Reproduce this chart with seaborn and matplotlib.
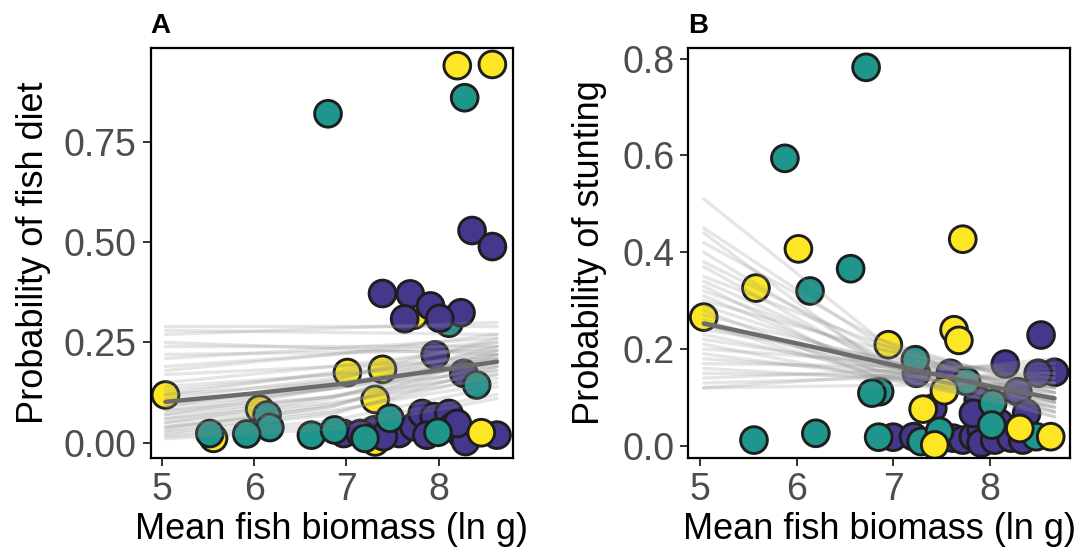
import pandas as pd
import numpy as np
import matplotlib
matplotlib.use("Agg")
import matplotlib.pyplot as plt
import seaborn as sns

# ---- scatter points, panel A (listed in drawing order) ----
a_x = [5.56, 7.73, 7.31, 5.04, 7.01, 7.39, 7.31, 6.06, 8.20, 8.58,
       8.11,
       8.36, 8.58, 7.39, 7.69, 7.91, 8.24, 7.63, 8.01, 7.96, 8.27,
       6.97, 7.30, 7.57, 7.73, 7.82, 7.95, 8.11, 8.15, 8.25, 8.29,
       8.63, 7.87, 7.15, 7.40, 8.20,
       6.80, 8.28, 8.41, 6.14, 6.17, 5.52, 5.92, 6.62, 6.87, 7.20,
       7.47, 7.99,
       8.46]
a_y = [0.011, 0.318, 0.002, 0.119, 0.175, 0.183, 0.108, 0.084, 0.940, 0.943,
       0.298,
       0.529, 0.489, 0.372, 0.371, 0.341, 0.324, 0.309, 0.310, 0.219, 0.173,
       0.023, 0.032, 0.023, 0.040, 0.073, 0.065, 0.073, 0.040, 0.019, 0.003,
       0.019, 0.019, 0.023, 0.015, 0.048,
       0.820, 0.860, 0.144, 0.069, 0.038, 0.023, 0.022, 0.019, 0.032, 0.011,
       0.061, 0.026,
       0.025]
a_grp = (["high"] * 10 + ["mid"] + ["low"] * 25 + ["mid"] * 12 + ["high"])

# ---- scatter points, panel B ----
b_x = [8.53, 8.16, 8.67, 8.50, 7.59, 7.24, 8.29, 8.38, 7.88, 7.41,
       7.00, 7.21, 7.62, 7.72, 7.83, 7.91, 7.97, 8.10, 7.91, 8.05,
       8.22, 8.34, 7.83,
       6.72, 5.88, 6.56, 6.14, 5.56, 6.20, 7.23, 6.86, 6.78, 7.76,
       8.03, 8.02, 6.85, 7.29, 7.48, 8.48,
       5.04, 5.58, 6.02, 7.72, 6.95, 7.63, 7.68, 7.31, 7.53, 8.63,
       8.31, 7.43]
b_y = [0.229, 0.169, 0.152, 0.150, 0.150, 0.150, 0.112, 0.067, 0.095, 0.078,
       0.018, 0.019, 0.016, 0.012, 0.019, 0.033, 0.061, 0.047, 0.006, 0.012,
       0.016, 0.012, 0.067,
       0.782, 0.594, 0.366, 0.320, 0.012, 0.026, 0.178, 0.112, 0.109, 0.133,
       0.088, 0.043, 0.018, 0.009, 0.030, 0.019,
       0.266, 0.326, 0.407, 0.427, 0.209, 0.240, 0.218, 0.076, 0.114, 0.019,
       0.036, 0.002]
b_grp = ["low"] * 23 + ["mid"] * 16 + ["high"] * 12

# ---- posterior draws (value at left, middle, right end) ----
a_draw_x = [5.04, 6.84, 8.63]
a_left = [0.29, 0.28, 0.27, 0.25, 0.24, 0.22, 0.21, 0.19, 0.18, 0.17,
          0.15, 0.14, 0.13, 0.12, 0.12, 0.11, 0.10, 0.10, 0.09, 0.09,
          0.08, 0.08, 0.07, 0.07, 0.06, 0.06, 0.05, 0.05, 0.04, 0.04,
          0.035, 0.03, 0.025, 0.02, 0.015, 0.01]
a_mid = [0.29, 0.275, 0.285, 0.235, 0.24, 0.225, 0.235, 0.22, 0.22, 0.19,
         0.19, 0.17, 0.17, 0.175, 0.15, 0.16, 0.145, 0.135, 0.155, 0.135,
         0.135, 0.115, 0.135, 0.115, 0.115, 0.10, 0.11, 0.095, 0.09, 0.08,
         0.09, 0.075, 0.07, 0.055, 0.045, 0.035]
a_right = [0.29, 0.27, 0.30, 0.22, 0.24, 0.23, 0.26, 0.25, 0.27, 0.21,
           0.24, 0.20, 0.22, 0.25, 0.19, 0.23, 0.21, 0.18, 0.26, 0.20,
           0.22, 0.17, 0.24, 0.19, 0.21, 0.16, 0.23, 0.18, 0.20, 0.15,
           0.22, 0.17, 0.19, 0.14, 0.12, 0.11]

b_draw_x = [5.04, 6.86, 8.67]
b_left = [0.51, 0.45, 0.44, 0.42, 0.40, 0.38, 0.37, 0.35, 0.34, 0.33,
          0.32, 0.31, 0.30, 0.29, 0.28, 0.27, 0.26, 0.25, 0.25, 0.24,
          0.23, 0.22, 0.21, 0.20, 0.19, 0.18, 0.17, 0.16, 0.15, 0.14,
          0.13, 0.12, 0.12]
b_mid = [0.22, 0.21, 0.17, 0.22, 0.18, 0.20, 0.17, 0.21, 0.18, 0.15,
         0.19, 0.16, 0.20, 0.17, 0.14, 0.18, 0.155, 0.165, 0.145, 0.185,
         0.155, 0.165, 0.14, 0.175, 0.145, 0.155, 0.165, 0.14, 0.145, 0.155,
         0.14, 0.125, 0.145]
b_right = [0.07, 0.09, 0.06, 0.11, 0.08, 0.10, 0.07, 0.12, 0.09, 0.06,
           0.11, 0.08, 0.13, 0.10, 0.07, 0.12, 0.09, 0.11, 0.08, 0.14,
           0.10, 0.12, 0.09, 0.15, 0.11, 0.13, 0.16, 0.12, 0.14, 0.17,
           0.15, 0.13, 0.18]

# ---- mean fitted curves ----
a_mean_x = [5.04, 6.0, 7.0, 8.0, 8.63]
a_mean_y = [0.102, 0.123, 0.148, 0.181, 0.202]
b_mean_x = [5.04, 6.0, 7.0, 8.0, 8.67]
b_mean_y = [0.253, 0.212, 0.167, 0.123, 0.098]

palette = {"low": "#45378C", "mid": "#1F968B", "high": "#FDE725"}


def draws_frame(xs, left, mid, right):
    rows = []
    for i, vals in enumerate(zip(left, mid, right)):
        for xv, yv in zip(xs, vals):
            rows.append({"draw": i, "x": xv, "y": yv})
    return pd.DataFrame(rows)


sns.set_theme(style="white")
plt.rcParams["font.family"] = ["Liberation Sans", "DejaVu Sans"]

fig = plt.figure(figsize=(10.89, 5.54), dpi=100)
ax_a = fig.add_axes([0.1384, 0.1733, 0.3324, 0.7401])
ax_b = fig.add_axes([0.6320, 0.1733, 0.3506, 0.7401])

panels = [
    (ax_a, a_x, a_y, a_grp, a_draw_x, a_left, a_mid, a_right, a_mean_x, a_mean_y,
     "Probability of fish diet", (4.88, 8.80), (-0.038, 0.984),
     [0, 0.25, 0.5, 0.75], ["0.00", "0.25", "0.50", "0.75"], "A", -0.325),
    (ax_b, b_x, b_y, b_grp, b_draw_x, b_left, b_mid, b_right, b_mean_x, b_mean_y,
     "Probability of stunting", (4.88, 8.83), (-0.025, 0.822),
     [0, 0.2, 0.4, 0.6, 0.8], ["0.0", "0.2", "0.4", "0.6", "0.8"], "B", -0.258),
]

for (ax, px, py, pg, dx, dl, dm, dr, mx, my, ylab, xlim, ylim,
     yt, ytl, tag, ylab_x) in panels:
    pts = pd.DataFrame({"x": px, "y": py, "grp": pg})
    sns.scatterplot(data=pts, x="x", y="y", hue="grp", palette=palette,
                    s=370, edgecolor="#1e1e1e", linewidth=2.1,
                    legend=False, ax=ax, zorder=1)
    draws = draws_frame(dx, dl, dm, dr)
    sns.lineplot(data=draws, x="x", y="y", units="draw", estimator=None,
                 color="#8c8c8c", alpha=0.22, linewidth=2.4, ax=ax, zorder=2)
    sns.lineplot(x=mx, y=my, color="#6b6b6b", linewidth=3.2, ax=ax, zorder=3)

    ax.set_xlim(*xlim)
    ax.set_ylim(*ylim)
    ax.set_xticks([5, 6, 7, 8])
    ax.set_xticklabels(["5", "6", "7", "8"])
    ax.set_yticks(yt)
    ax.set_yticklabels(ytl)
    ax.tick_params(axis="both", which="major", direction="out", length=5.5,
                   width=1.4, color="#333333", labelsize=27,
                   labelcolor="#4D4D4D", pad=4.5, left=True, bottom=True)
    for sp in ax.spines.values():
        sp.set_color("black")
        sp.set_linewidth(1.6)

    ax.set_xlabel("Mean fish biomass (ln g)", fontsize=26, color="black",
                  va="baseline")
    ax.xaxis.set_label_coords(0.5, -0.198)
    ax.set_ylabel(ylab, fontsize=26, color="black", va="center")
    ax.yaxis.set_label_coords(ylab_x, 0.5)
    ax.text(0.0, 1.037, tag, transform=ax.transAxes, fontsize=20,
            fontweight="bold", ha="left", va="baseline", color="black")

fig.savefig("out.png", dpi=100)
